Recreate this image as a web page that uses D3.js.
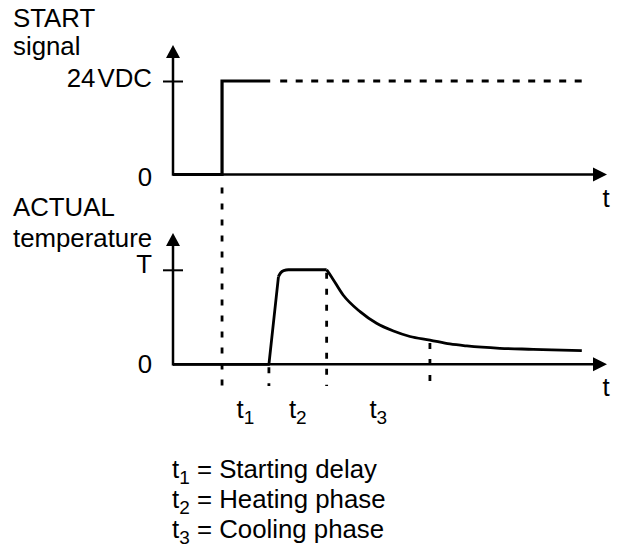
<!DOCTYPE html>
<html><head><meta charset="utf-8">
<script src="https://cdn.jsdelivr.net/npm/d3@7"></script>
<style>
body{margin:0;background:#fff;}
text{font-family:"Liberation Sans",Arial,sans-serif;fill:#000;}
</style></head>
<body><svg id="c" width="620" height="552"></svg>
<script>
// ---- data ----
const signalTicks = [0, 24];
const signalTickLabels = ["0", "24\u200AVDC"];
const tempTicks = [0, 100];
const tempTickLabels = ["0", "T"];
// START signal: time, volts
const signalSolid = [[0,0],[11.3,0],[11.3,24],[22.4,24]];
const signalDashed = [[24.7,24],[94.2,24]];
// ACTUAL temperature (percent of T)
const tempRise = [[0,0],[22.1,0],[24.3,92.7]];
const tempCorner = [[24.3,92.7],[24.8,96.8],[25.5,99.2],[26.6,100],[35.4,100]];
const tempDecay = [[35.4,100],[36.5,92.7],[39.2,73.3],[43.1,55.7],[46.9,43.4],[50.8,35.2],[54.6,29.4],[59.2,25.7],[63.8,21.5],[67.7,19.4],[75.3,16.9],[83.0,15.9],[94.2,14.4]];
const markerTimes = [11.3, 22.1, 35.4, 59.2];
const markerTopVals = [null, 0, 100, 25.7];
const phaseNames = ["1","2","3"];
const legendTexts = ["Starting delay","Heating phase","Cooling phase"];

// ---- layout ----
const svg = d3.select("#c");
const x = d3.scaleLinear().domain([0,100]).range([173,607]);
const ys = d3.scaleLinear().domain([0,24]).range([174.5,81]);
const yt = d3.scaleLinear().domain([0,100]).range([364.3,269.8]);
const FS = 25.8;

function axisFrame(yBase, yTop){
  svg.append("line").attr("x1",x(0)).attr("x2",x(100)-10).attr("y1",yBase).attr("y2",yBase)
    .attr("stroke","#000").attr("stroke-width",2.5);
  svg.append("path").attr("d",`M${x(100)},${yBase}L${x(100)-14},${yBase-7}L${x(100)-14},${yBase+7}Z`).attr("fill","#000");
  svg.append("line").attr("x1",x(0)).attr("x2",x(0)).attr("y1",yBase+1.25).attr("y2",yTop+10)
    .attr("stroke","#000").attr("stroke-width",2.5);
  svg.append("path").attr("d",`M${x(0)},${yTop}L${x(0)-7},${yTop+13}L${x(0)+7},${yTop+13}Z`).attr("fill","#000");
}
axisFrame(ys(0), 45);
axisFrame(yt(0), 233);

function yAxis(scale, ticks, labels, offs){
  const g = svg.append("g").attr("transform",`translate(${x(0)},0)`)
    .call(d3.axisLeft(scale).tickValues(ticks).tickFormat((d,i)=>labels[i]).tickSize(0).tickPadding(21));
  g.select(".domain").remove();
  g.selectAll("text").attr("font-size",FS).attr("font-family","Liberation Sans, Arial, sans-serif")
    .attr("fill","#000").attr("dy",(d,i)=>offs[i]);
  g.selectAll(".tick").filter(d=>d!==0).append("line")
    .attr("x1",-10).attr("x2",10).attr("stroke","#000").attr("stroke-width",2);
}
yAxis(ys, signalTicks, signalTickLabels, [10.5, 5]);
yAxis(yt, tempTicks, tempTickLabels, [8.5, 3]);

// titles
const titles = [["START",27],["signal",55],["ACTUAL",216],["temperature",247]];
titles.forEach(([t,yy])=>svg.append("text").attr("x",13).attr("y",yy).attr("font-size",FS).text(t));
svg.append("text").attr("x",606).attr("y",207).attr("text-anchor","middle").attr("font-size",FS).text("t");
svg.append("text").attr("x",606).attr("y",396).attr("text-anchor","middle").attr("font-size",FS).text("t");

// signal
const lineS = d3.line().x(d=>x(d[0])).y(d=>ys(d[1]));
svg.append("path").attr("d",lineS(signalSolid)).attr("fill","none").attr("stroke","#000").attr("stroke-width",3.2);
svg.append("path").attr("d",lineS(signalDashed)).attr("fill","none").attr("stroke","#000").attr("stroke-width",3)
  .attr("stroke-dasharray","7,8.5");

// temperature
const lineT = d3.line().x(d=>x(d[0])).y(d=>yt(d[1]));
svg.append("path").attr("d",lineT(tempRise)).attr("fill","none").attr("stroke","#000").attr("stroke-width",2.8).attr("stroke-linejoin","round");
svg.append("path").attr("d",lineT.curve(d3.curveMonotoneX)(tempCorner)).attr("fill","none").attr("stroke","#000").attr("stroke-width",3);
svg.append("path").attr("d",lineT.curve(d3.curveMonotoneX)(tempDecay)).attr("fill","none").attr("stroke","#000").attr("stroke-width",2.8);

// markers
markerTimes.forEach((t,i)=>{
  const top = markerTopVals[i]===null ? ys(0)+13 : yt(markerTopVals[i])+3;
  svg.append("line").attr("x1",x(t)).attr("x2",x(t)).attr("y1",top).attr("y2",386)
    .attr("stroke","#000").attr("stroke-width",2.8).attr("stroke-dasharray","6,10");
});

// phase labels
phaseNames.forEach((n,i)=>{
  const cx = (x(markerTimes[i])+x(markerTimes[i+1]))/2;
  const t = svg.append("text").attr("x",cx).attr("y",418).attr("text-anchor","middle").attr("font-size",FS);
  t.append("tspan").text("t");
  t.append("tspan").attr("font-size",19).attr("dy",6).text(n);
});

// legend
legendTexts.forEach((s,i)=>{
  const t = svg.append("text").attr("x",172).attr("y",478+i*30).attr("font-size",FS);
  t.append("tspan").text("t");
  t.append("tspan").attr("font-size",19).attr("dy",6).text(phaseNames[i]);
  t.append("tspan").attr("dy",-6).text(" = "+s);
});
</script></body></html>
